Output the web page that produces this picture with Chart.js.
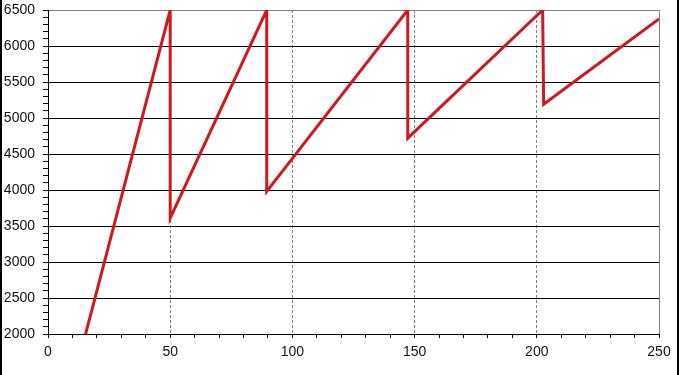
<!DOCTYPE html>
<html>
<head>
<meta charset="utf-8">
<script src="https://cdn.jsdelivr.net/npm/chart.js@4"></script>
<style>
  html, body { margin: 0; padding: 0; background: #fff; }
  #wrap { position: relative; width: 683px; height: 375px; }
  #edgeL, #edgeR { position: absolute; top: 0; width: 2px; height: 375px; background: #000; }
  #edgeL { left: 0; }
  #edgeR { left: 677px; }
</style>
</head>
<body>
<div id="wrap">
  <canvas id="chart" width="683" height="375"></canvas>
  <div id="edgeL"></div>
  <div id="edgeR"></div>
</div>
<script>
// Sawtooth series (x position, y value)
const xValues = [0, 50, 50, 89.5, 89.5, 147.2, 147.2, 202.4, 202.8, 250];
const yValues = [0, 6500, 3610, 6500, 3980, 6500, 4720, 6500, 5190, 6375];

// Axis ranges and tick steps
const xMin = 0, xMax = 250, xMajor = 50, xMinor = 10;
const yMin = 2000, yMax = 6500, yMajor = 500, yMinor = 100;

const points = xValues.map((x, i) => ({ x: x, y: yValues[i] }));

// fill in minor ticks, labels only on the major steps
function minorTicks(min, max, step) {
  const out = [];
  for (let v = min; v <= max + 0.001; v += step) out.push({ value: Math.round(v) });
  return out;
}

const ctx = document.getElementById('chart').getContext('2d');
new Chart(ctx, {
  type: 'line',
  data: {
    datasets: [{
      data: points,
      borderColor: '#cc1a20',
      borderWidth: 3,
      pointRadius: 0,
      tension: 0,
      fill: false
    }]
  },
  options: {
    responsive: false,
    animation: false,
    layout: { padding: { top: 10, right: 24, left: 0, bottom: 0 } },
    plugins: {
      legend: { display: false },
      tooltip: { enabled: false }
    },
    scales: {
      x: {
        type: 'linear',
        min: xMin,
        max: xMax,
        afterBuildTicks: s => { s.ticks = minorTicks(xMin, xMax, xMinor); },
        afterFit: s => { s.height = 41; s.paddingRight = 0; s.paddingLeft = 0; },
        ticks: {
          autoSkip: false,
          maxRotation: 0,
          padding: 6,
          color: '#111',
          font: { family: 'Liberation Sans', size: 14 },
          callback: v => (v % xMajor === 0 ? String(v) : '')
        },
        grid: {
          tickLength: 4,
          tickColor: '#000',
          color: c => {
            const v = c.tick ? c.tick.value : 0;
            if (v % xMajor !== 0 || v === xMin) return 'rgba(0,0,0,0)';
            return '#808080';
          }
        },
        border: {
          color: '#000',
          width: 1,
          dash: c => {
            const v = c.tick ? c.tick.value : xMax;
            return (v === xMax || v === xMin) ? [] : [3, 2];
          }
        }
      },
      y: {
        min: yMin,
        max: yMax,
        afterBuildTicks: s => { s.ticks = minorTicks(yMin, yMax, yMinor); },
        afterFit: s => { s.width = 48; s.paddingTop = 0; s.paddingBottom = 0; },
        ticks: {
          autoSkip: false,
          padding: 8,
          color: '#111',
          font: { family: 'Liberation Sans', size: 14 },
          callback: v => (v % yMajor === 0 ? String(v) : '')
        },
        grid: {
          tickLength: 5,
          tickColor: '#000',
          color: c => {
            const v = c.tick ? c.tick.value : 0;
            if (v % yMajor !== 0 || v === yMin) return 'rgba(0,0,0,0)';
            return v === yMax ? '#808080' : '#000';
          }
        },
        border: { color: '#000', width: 1 }
      }
    }
  }
});
</script>
</body>
</html>
